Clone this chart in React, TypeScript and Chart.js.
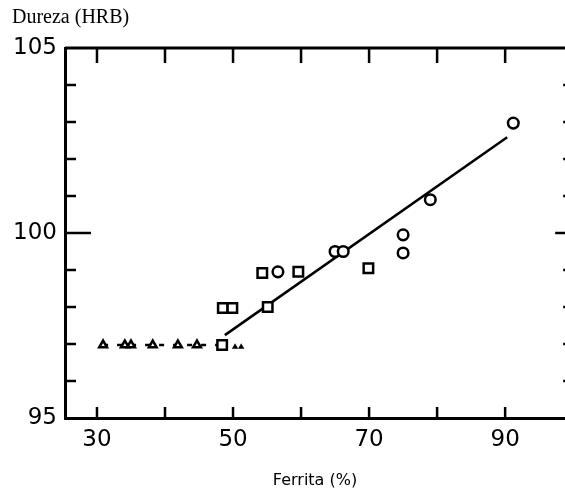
import React, { useEffect, useRef } from "react";
import { Chart, registerables } from "chart.js";

Chart.register(...registerables);

// Data
const circleX = [91.2, 79.0, 75.0, 75.0, 65.0, 66.2, 56.6];
const circleY = [102.97, 100.9, 99.95, 99.46, 99.5, 99.5, 98.95];
const squareX = [54.3, 59.6, 69.9, 48.5, 49.9, 55.1, 48.4];
const squareY = [98.92, 98.95, 99.05, 97.97, 97.97, 98.0, 96.97];
const triangleX = [30.9, 34.1, 35.0, 38.2, 41.9, 44.7];
const triangleY = [96.97, 96.97, 96.97, 96.97, 96.97, 96.97];
const smallMarkX = [50.3, 51.2];
const smallMarkY = [96.92, 96.92];
const fitX = [48.8, 90.3];
const fitY = [97.24, 102.59];
const dashX = [30.9, 48.4];
const dashY = [96.97, 96.97];

const xTickLabels = [30, 50, 70, 90];
const xTickMarks = [30, 40, 50, 60, 70, 80, 90];
const yTickLabels = [95, 100, 105];
const yMinorTicks = [96, 97, 98, 99, 101, 102, 103, 104];
const yMajorInner = [100];
const xRightFrame = 100; // right frame of the original plot lies just outside the crop

const CANVAS_W = 565;
const CANVAS_H = 497;

const toPts = (xs: number[], ys: number[]) => xs.map((v, i) => ({ x: v, y: ys[i] }));

const framePlugin = {
  id: "frameTicks",
  beforeDatasetsDraw(chart: any) {
    const { ctx, chartArea: a, scales } = chart;
    const x = scales.x;
    const y = scales.y;
    const seg = (x1: number, y1: number, x2: number, y2: number) => {
      ctx.beginPath();
      ctx.moveTo(x1, y1);
      ctx.lineTo(x2, y2);
      ctx.stroke();
    };
    const rx = x.getPixelForValue(xRightFrame);
    ctx.save();
    ctx.strokeStyle = "#000";
    ctx.lineCap = "butt";
    ctx.lineWidth = 3;
    seg(a.left, a.top, rx, a.top);
    seg(rx, a.top, rx, a.bottom);
    ctx.lineWidth = 2.5;
    xTickMarks.forEach((v) => {
      const px = x.getPixelForValue(v);
      seg(px, a.bottom, px, a.bottom - 11);
      seg(px, a.top, px, a.top + 15);
    });
    yMinorTicks.forEach((v) => {
      const py = y.getPixelForValue(v);
      seg(a.left, py, a.left + 11, py);
      seg(rx, py, rx - 10, py);
    });
    yMajorInner.forEach((v) => {
      const py = y.getPixelForValue(v);
      seg(a.left, py, a.left + 26, py);
      seg(rx, py, rx - 18, py);
    });
    ctx.restore();
  },
};

export default function App() {
  const ref = useRef<HTMLCanvasElement | null>(null);

  useEffect(() => {
    if (!ref.current) return;
    const chart = new Chart(ref.current, {
      type: "scatter",
      data: {
        datasets: [
          {
            label: "Círculos",
            data: toPts(circleX, circleY),
            pointStyle: "circle",
            pointRadius: 5.3,
            pointBorderWidth: 2.5,
            pointBorderColor: "#000",
            pointBackgroundColor: "#fff",
            order: 1,
          },
          {
            label: "Quadrados",
            data: toPts(squareX, squareY),
            pointStyle: "rect",
            pointRadius: 6.7,
            pointBorderWidth: 2.5,
            pointBorderColor: "#000",
            pointBackgroundColor: "#fff",
            order: 1,
          },
          {
            label: "Triângulos",
            data: toPts(triangleX, triangleY),
            pointStyle: "triangle",
            pointRadius: 4.5,
            pointBorderWidth: 2.5,
            pointBorderColor: "#000",
            pointBackgroundColor: "#fff",
            order: 1,
          },
          {
            label: "Marcas",
            data: toPts(smallMarkX, smallMarkY),
            pointStyle: "triangle",
            pointRadius: 2.2,
            pointBorderWidth: 1.5,
            pointBorderColor: "#000",
            pointBackgroundColor: "#000",
            order: 1,
          },
          {
            label: "Ajuste",
            data: toPts(fitX, fitY),
            showLine: true,
            borderColor: "#000",
            borderWidth: 2.5,
            pointRadius: 0,
            order: 2,
          },
          {
            label: "Patamar",
            data: toPts(dashX, dashY),
            showLine: true,
            borderColor: "#000",
            borderWidth: 2.5,
            borderDash: [5, 9],
            pointRadius: 0,
            order: 2,
          },
        ],
      },
      options: {
        animation: false,
        responsive: false,
        maintainAspectRatio: false,
        layout: { autoPadding: false, padding: { left: 12, right: 0, top: 0, bottom: 0 } },
        plugins: {
          legend: { display: false },
          tooltip: { enabled: false },
          title: {
            display: true,
            text: "Dureza (HRB)",
            align: "start",
            color: "#000",
            font: { family: "'Liberation Serif', 'DejaVu Serif', serif", size: 20, weight: "normal" },
            padding: { top: 6, bottom: 18 },
          },
        },
        scales: {
          x: {
            type: "linear",
            min: 25.3,
            max: 98.8,
            afterBuildTicks: (s: any) => {
              s.ticks = xTickLabels.map((v) => ({ value: v }));
            },
            afterFit: (s: any) => {
              s.height = 79;
              s.paddingLeft = 0;
              s.paddingRight = 0;
            },
            grid: { display: true, drawOnChartArea: false, drawTicks: false },
            border: { display: true, color: "#000", width: 3 },
            ticks: {
              color: "#000",
              padding: 8,
              font: { family: "'DejaVu Sans', sans-serif", size: 23 },
              callback: (v: any) => String(v),
            },
            title: {
              display: true,
              text: "Ferrita (%)",
              color: "#000",
              font: { family: "'DejaVu Sans', sans-serif", size: 16 },
              padding: { top: 0, bottom: 7 },
            },
          },
          y: {
            type: "linear",
            min: 95,
            max: 105,
            afterBuildTicks: (s: any) => {
              s.ticks = yTickLabels.map((v) => ({ value: v }));
            },
            afterFit: (s: any) => {
              s.width = 53;
            },
            grid: { display: true, drawOnChartArea: false, drawTicks: false },
            border: { display: true, color: "#000", width: 3 },
            ticks: {
              color: "#000",
              padding: 8,
              font: { family: "'DejaVu Sans', sans-serif", size: 23 },
              callback: (v: any) => String(v),
            },
          },
        },
      },
      plugins: [framePlugin],
    });
    return () => chart.destroy();
  }, []);

  return (
    <div
      style={{
        position: "fixed",
        left: 0,
        top: 0,
        width: CANVAS_W,
        height: CANVAS_H,
        background: "#fff",
        overflow: "hidden",
      }}
    >
      <canvas
        ref={ref}
        width={CANVAS_W}
        height={CANVAS_H}
        style={{ display: "block", width: CANVAS_W, height: CANVAS_H }}
      />
    </div>
  );
}
